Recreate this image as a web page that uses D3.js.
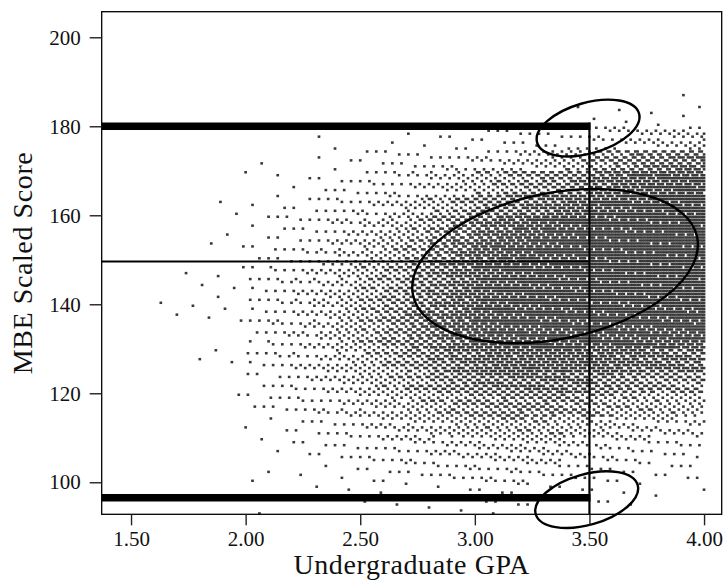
<!DOCTYPE html>
<html>
<head>
<meta charset="utf-8">
<script src="https://cdn.jsdelivr.net/npm/d3@7"></script>
<style>
  body { margin: 0; background: #fff; }
  svg { display: block; }
</style>
</head>
<body>
<svg width="723" height="587"></svg>
<script>
"use strict";
// GPA bands (lower edge, width 0.1) used by the density rows below.
const gpaBands = [1.6, 1.7, 1.8, 1.9, 2.0, 2.1, 2.2, 2.3, 2.4, 2.5, 2.6, 2.7,
                  2.8, 2.9, 3.0, 3.1, 3.2, 3.3, 3.4, 3.5, 3.6, 3.7, 3.8, 3.9];
// Score bands (lower edge, width 5), top to bottom, matching the rows below.
const scoreBands = [185, 180, 175, 170, 165, 160, 155, 150, 145, 140,
                    135, 130, 125, 120, 115, 110, 105, 100, 95, 90];
// Share of occupied (GPA, score) cells in each band, in percent.
const row185 = [0,0,0,0,0,0,0,0,0,0,0,0,0,0,0,0,0,0,0,0,0,0,0,1];
const row180 = [0,0,0,0,0,0,0,0,0,0,0,0,1,0,0,0,0,0,1,1,2,2,2,3];
const row175 = [0,0,0,0,0,0,0,1,1,1,2,2,3,4,4,5,5,6,7,10,12,14,16,18];
const row170 = [0,0,0,0,1,1,1,2,3,4,5,6,8,10,13,15,18,22,26,38,45,52,56,60];
const row165 = [0,0,0,0,1,1,2,3,5,7,9,12,16,22,28,34,40,46,54,66,74,80,84,86];
const row160 = [0,0,1,1,2,3,4,6,8,11,15,20,27,36,48,56,63,70,76,84,88,90,92,92];
const row155 = [0,0,1,1,3,5,6,9,12,16,22,29,38,50,64,72,78,83,86,90,92,93,94,94];
const row150 = [0,0,1,1,4,6,8,12,16,21,28,37,48,60,74,80,85,88,90,92,93,94,94,94];
const row145 = [0,1,1,2,5,8,11,15,21,28,36,46,57,69,80,85,88,90,91,92,93,94,94,94];
const row140 = [1,1,2,2,6,8,12,17,23,31,40,50,61,72,82,86,89,90,91,92,93,93,93,93];
const row135 = [0,1,1,2,6,9,12,18,25,33,42,52,63,73,82,86,88,89,89,90,90,90,90,90];
const row130 = [0,0,1,1,5,8,12,17,24,32,41,50,60,70,78,82,84,85,85,85,84,83,82,81];
const row125 = [0,0,1,1,5,7,11,15,21,28,36,44,53,62,70,74,76,77,76,74,70,67,64,62];
const row120 = [0,0,0,1,4,6,9,13,17,23,29,36,43,50,57,60,62,62,60,55,50,46,43,40];
const row115 = [0,0,0,1,3,5,7,10,13,17,21,26,31,36,41,44,45,45,42,36,31,28,26,25];
const row110 = [0,0,0,0,2,3,5,6,8,11,14,17,20,24,27,29,30,28,25,20,17,15,14,13];
const row105 = [0,0,0,0,1,2,3,4,5,7,8,10,12,14,16,17,17,16,14,11,9,8,7,7];
const row100 = [0,0,0,0,1,1,1,2,3,4,5,6,7,8,9,10,10,9,8,6,5,4,4,4];
const row95  = [0,0,0,0,0,0,1,1,1,1,2,2,3,3,4,4,4,4,3,3,2,2,1,1];
const row90  = [0,0,0,0,1,0,0,0,0,1,1,0,1,1,1,1,1,1,1,1,1,0,0,0];
// The GPA = 4.00 column is much fuller than its neighbours (same score bands).
const gpa400 = [1,4,45,90,97,97,97,97,97,97,96,85,50,30,22,14,9,5,2,0];

// Axis ticks and the reference lines drawn over the cloud.
const xTicks = [1.5, 2.0, 2.5, 3.0, 3.5, 4.0];
const yTicks = [100, 120, 140, 160, 180, 200];
const cutGpa = 3.5;
const thickScores = [180, 96.5];
const meanScore = 149.6;
// Ellipses: centre in data units, half-axes in px, tilt in degrees.
const ellipseGpa = [3.35, 3.494, 3.488];
const ellipseScore = [148.6, 179.6, 96.1];
const ellipseRx = [145, 53, 53];
const ellipseRy = [73, 25.3, 25.3];
const ellipseTilt = [-11.5, -16, -16];

const fillRows = [row185, row180, row175, row170, row165, row160, row155, row150, row145, row140,
                  row135, row130, row125, row120, row115, row110, row105, row100, row95, row90];

const svg = d3.select("svg");
const plotL = 101.7, plotR = 721.7, plotT = 11.7, plotB = 514.3;

const x = d3.scaleLinear().domain([1.372, 4.077]).range([plotL, plotR]);
const y = d3.scaleLinear().domain([92.8, 205.75]).range([plotB, plotT]);

// Scores and GPAs come in discrete steps, so the cloud sits on a lattice.
// Each lattice cell is switched on when its R2 dither value falls under the band's share.
const a1 = 0.7548776662466927, a2 = 0.5698402909980532;
const points = [];
const scoreStep = 2 / 3;
for (let k = 160; k <= 400; k++) {          // GPA in hundredths
    const gpa = k / 100;
    for (let j = 0; ; j++) {
        const score = 93 + j * scoreStep;
        if (score >= 190) break;
        const band = scoreBands.findIndex(b => score >= b);
        if (band < 0) continue;
        const pct = k === 400 ? gpa400[band] : fillRows[band][Math.floor(k / 10) - 16];
        const t = (0.5 + k * a1 + j * a2) % 1;
        if (t < pct / 100) points.push([gpa, score]);
    }
}

const dotW = 2.7, dotH = 2.5;
svg.append("g")
    .selectAll("rect")
    .data(points)
    .join("rect")
        .attr("x", d => x(d[0]) - dotW / 2)
        .attr("y", d => y(d[1]) - dotH / 2)
        .attr("width", dotW)
        .attr("height", dotH)
        .attr("fill", "#383838");

// reference lines
const lines = svg.append("g").attr("stroke", "#000").attr("fill", "none");
thickScores.forEach(s => {
    lines.append("line")
        .attr("x1", plotL).attr("x2", x(cutGpa) + 1)
        .attr("y1", y(s)).attr("y2", y(s))
        .attr("stroke-width", 7.5);
});
lines.append("line")
    .attr("x1", plotL).attr("x2", x(cutGpa))
    .attr("y1", y(meanScore)).attr("y2", y(meanScore))
    .attr("stroke-width", 2);
lines.append("line")
    .attr("x1", x(cutGpa)).attr("x2", x(cutGpa))
    .attr("y1", y(thickScores[0]) - 3.75).attr("y2", plotB)
    .attr("stroke-width", 2.2);

ellipseGpa.forEach((g, i) => {
    lines.append("ellipse")
        .attr("transform", `translate(${x(g)},${y(ellipseScore[i])}) rotate(${ellipseTilt[i]})`)
        .attr("rx", ellipseRx[i])
        .attr("ry", ellipseRy[i])
        .attr("stroke-width", 2.4);
});

// frame
svg.append("rect")
    .attr("x", plotL).attr("y", plotT)
    .attr("width", plotR - plotL).attr("height", plotB - plotT)
    .attr("fill", "none").attr("stroke", "#000").attr("stroke-width", 1.3);

const font = "'Liberation Serif', 'Times New Roman', serif";

const xAxis = svg.append("g")
    .attr("transform", `translate(0,${plotB})`)
    .call(d3.axisBottom(x).tickValues(xTicks).tickFormat(d3.format(".2f")).tickSize(11).tickPadding(6));
const yAxis = svg.append("g")
    .attr("transform", `translate(${plotL},0)`)
    .call(d3.axisLeft(y).tickValues(yTicks).tickFormat(d3.format("d")).tickSize(12).tickPadding(9));
[xAxis, yAxis].forEach(ax => {
    ax.select(".domain").remove();
    ax.selectAll("line").attr("stroke", "#222").attr("stroke-width", 1.4);
    ax.selectAll("text")
        .attr("fill", "#111")
        .style("font-family", font)
        .style("font-size", "21px");
});

svg.append("text")
    .attr("x", (plotL + plotR) / 2)
    .attr("y", 574)
    .attr("text-anchor", "middle")
    .style("font-family", font)
    .style("font-size", "28px")
    .style("letter-spacing", "0.6px")
    .attr("fill", "#111")
    .text("Undergraduate GPA");
svg.append("text")
    .attr("transform", `translate(32,263) rotate(-90)`)
    .attr("text-anchor", "middle")
    .style("font-family", font)
    .style("font-size", "28px")
    .style("letter-spacing", "0.6px")
    .attr("fill", "#111")
    .text("MBE Scaled Score");
</script>
</body>
</html>
